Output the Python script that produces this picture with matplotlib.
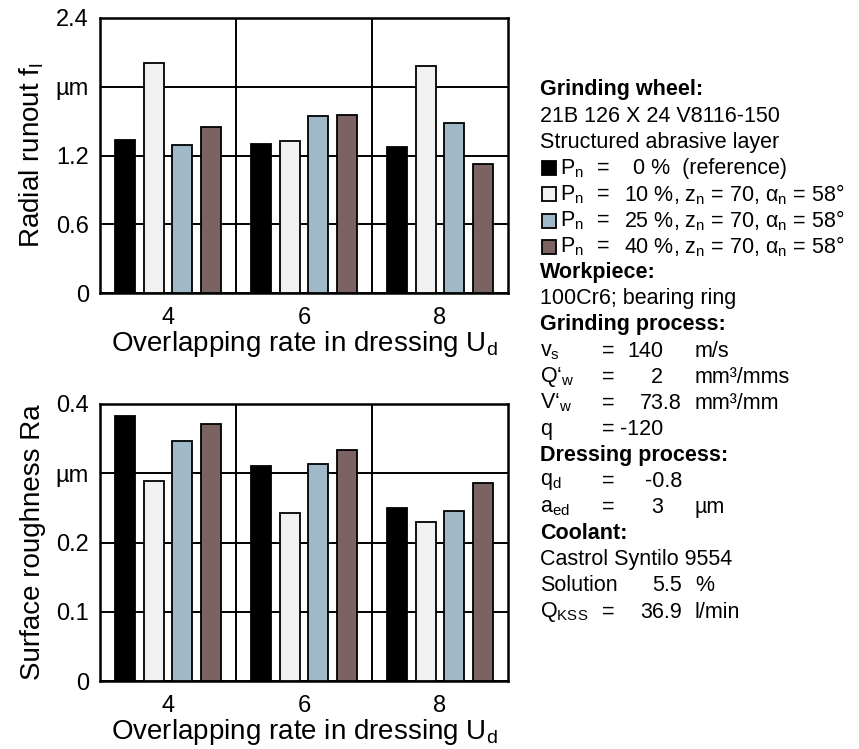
import numpy as np
import matplotlib
matplotlib.use('Agg')
import matplotlib.pyplot as plt
from matplotlib.patches import Rectangle

plt.rcParams['font.family'] = ['Liberation Sans', 'DejaVu Sans']
plt.rcParams['mathtext.fontset'] = 'custom'
plt.rcParams['mathtext.rm'] = 'Liberation Sans'

W, H = 859, 749

# data
groups = ['4', '6', '8']
series = ['Pn = 0 %', 'Pn = 10 %', 'Pn = 25 %', 'Pn = 40 %']
colors = ['#000000', '#f1f1f1', '#a0b9c9', '#7b6361']
runout = [[1.335, 1.297, 1.271],
          [2.010, 1.323, 1.982],
          [1.290, 1.547, 1.483],
          [1.445, 1.555, 1.123]]
rough = [[0.383, 0.310, 0.250],
         [0.289, 0.243, 0.229],
         [0.346, 0.314, 0.246],
         [0.371, 0.333, 0.286]]
top_ticks = [0, 0.6, 1.2, 1.8, 2.4]
top_labels = ['0', '0.6', '1.2', 'µm', '2.4']
bot_ticks = [0, 0.1, 0.2, 0.3, 0.4]
bot_labels = ['0', '0.1', '0.2', 'µm', '0.4']


def px(x, y):
    return x / W, 1 - y / H


fig = plt.figure(figsize=(W / 100, H / 100), dpi=100)
ax1 = fig.add_axes([100 / W, 1 - 293 / H, 408 / W, 275 / H])
ax2 = fig.add_axes([100 / W, 1 - 681 / H, 408 / W, 277 / H])


def draw(ax, vals, ticks, labels, ylabel):
    x = np.arange(len(groups))
    step, bw = 0.212, 0.148
    for i, v in enumerate(vals):
        ax.bar(x + (i - 1.5) * step, v, bw, color=colors[i],
               edgecolor='black', linewidth=1.3, zorder=3)
    for s in [0.5, 1.5]:
        ax.axvline(s, color='black', lw=1.4, zorder=1)
    ax.set_xlim(-0.5, 2.5)
    ax.set_ylim(ticks[0], ticks[-1])
    ax.set_yticks(ticks)
    ax.set_yticklabels(labels)
    ax.set_xticks(x)
    ax.set_xticklabels(groups)
    ax.tick_params(length=0, labelsize=17, pad=8)
    ax.tick_params(axis='x', pad=10)
    ax.yaxis.grid(True, color='black', lw=1.4, zorder=1)
    ax.set_axisbelow(True)
    for sp in ax.spines.values():
        sp.set_linewidth(1.8)
    ax.set_ylabel(ylabel, fontsize=20, labelpad=7)
    ax.set_xlabel(r'Overlapping rate in dressing U$_\mathregular{d}$',
                  fontsize=20, labelpad=0)


draw(ax1, runout, top_ticks, top_labels, r'Radial runout f$_\mathregular{l}$')
draw(ax2, rough, bot_ticks, bot_labels, 'Surface roughness Ra')

# info block
fs = 15.5
y0, dy = 90, 26.1
xl = 540


def line(i):
    return y0 + i * dy


def t(x, i, s, **kw):
    fig.text(*px(x, line(i)), s, fontsize=fs, va='center', **kw)


t(xl, 0, 'Grinding wheel:', weight='bold')
t(xl, 1, '21B 126 X 24 V8116-150')
t(xl, 2, 'Structured abrasive layer')
leg_rest = ['0 %  (reference)',
            r'10 %, z$_\mathregular{n}$ = 70, α$_\mathregular{n}$ = 58°',
            r'25 %, z$_\mathregular{n}$ = 70, α$_\mathregular{n}$ = 58°',
            r'40 %, z$_\mathregular{n}$ = 70, α$_\mathregular{n}$ = 58°']
leg_x = [633, 624, 624, 624]
for k in range(4):
    i = 3 + k
    x0, yb = px(542, line(i) + 7)
    fig.add_artist(Rectangle((x0, yb), 14 / W, 14 / H, transform=fig.transFigure,
                             facecolor=colors[k], edgecolor='black', lw=1.3))
    t(560, i, r'P$_\mathregular{n}$')
    t(597, i, '=')
    t(leg_x[k], i, leg_rest[k])
t(xl, 7, 'Workpiece:', weight='bold')
t(xl, 8, '100Cr6; bearing ring')
t(xl, 9, 'Grinding process:', weight='bold')

params = [(10, r'v$_\mathregular{s}$', '140', 663, 'm/s'),
          (11, r'Q‘$_\mathregular{w}$', '2', 663, 'mm³/mms'),
          (12, r'V‘$_\mathregular{w}$', '73.8', 682, 'mm³/mm'),
          (13, 'q', '-120', 663, ''),
          (15, r'q$_\mathregular{d}$', '-0.8', 682, ''),
          (16, r'a$_\mathregular{ed}$', '3', 663, 'µm'),
          (20, r'Q$_\mathregular{KSS}$', '36.9', 682, 'l/min')]
for i, name, val, xr, unit in params:
    t(xl, i, name)
    t(602, i, '=')
    t(xr, i, val, ha='right')
    if unit:
        t(695, i, unit)
t(xl, 14, 'Dressing process:', weight='bold')
t(xl, 17, 'Coolant:', weight='bold')
t(xl, 18, 'Castrol Syntilo 9554')
t(xl, 19, 'Solution')
t(682, 19, '5.5', ha='right')
t(695, 19, '%')

fig.savefig('out.png', dpi=100)
